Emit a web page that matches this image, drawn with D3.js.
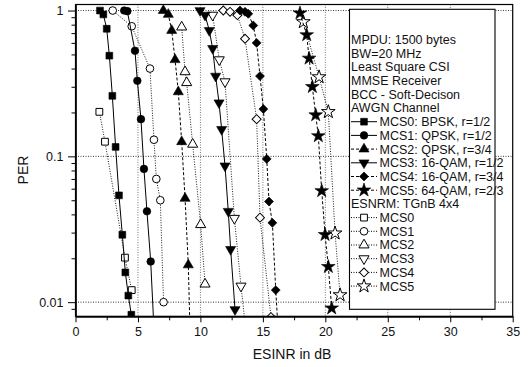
<!DOCTYPE html>
<html>
<head>
<meta charset="utf-8">
<script src="https://cdn.jsdelivr.net/npm/d3@7"></script>
<style>
  body { margin: 0; background: #fff; }
  svg text { font-family: "Liberation Sans", Arial, sans-serif; fill: #111; }
</style>
</head>
<body>
<svg id="chart" width="530" height="367"></svg>
<script>
// values: ESINR (dB) and PER for every curve
const mcs0_x = [1.96, 2.23, 2.5, 2.71, 2.95, 3.21, 3.48, 3.75, 3.99, 4.23, 4.47];
const mcs0_y = [1.0, 0.94, 0.75, 0.49, 0.26, 0.116, 0.054, 0.029, 0.016, 0.0111, 0.0082];
const mcs1_x = [3.9, 4.15, 4.76, 4.95, 5.24, 5.48, 5.72, 6.02, 6.35];
const mcs1_y = [1.0, 0.99, 0.53, 0.33, 0.18, 0.082, 0.042, 0.019, 0.005];
const mcs2_x = [7.03, 7.43, 7.7, 7.97, 8.23, 8.5, 8.77, 9.03, 9.2];
const mcs2_y = [1.0, 0.94, 0.73, 0.46, 0.277, 0.126, 0.0515, 0.018, 0.005];
const mcs3_x = [9.97, 10.37, 10.71, 10.98, 11.22, 11.49, 11.7, 11.97, 12.23, 12.42, 12.77];
const mcs3_y = [1.0, 0.93, 0.73, 0.55, 0.355, 0.233, 0.153, 0.086, 0.042, 0.023, 0.0089];
const mcs4_x = [13.17, 13.57, 13.83, 14.23, 14.5, 14.77, 15.04, 15.31, 15.49, 15.76, 16.03, 16.3];
const mcs4_y = [1.0, 0.98, 0.95, 0.79, 0.6, 0.355, 0.211, 0.096, 0.049, 0.035, 0.0121, 0.005];
const mcs5_x = [17.97, 18.51, 18.7, 18.96, 19.23, 19.44, 19.71, 19.98, 20.24, 20.51];
const mcs5_y = [0.96, 0.68, 0.47, 0.3, 0.192, 0.138, 0.058, 0.029, 0.0175, 0.0091];

// ESNRM: TGnB 4x4 (hollow markers)
const esn0_x = [1.91, 2.36, 3.96, 4.5];
const esn0_y = [0.202, 0.126, 0.0202, 0.0121];
const esn1_x = [2.98, 4.5, 5.96, 6.28, 6.47, 6.79, 7.05];
const esn1_y = [1.0, 0.78, 0.4, 0.13, 0.07, 0.05, 0.01];
const esn2_x = [8.5, 8.77, 8.9, 9.38, 10.02, 10.37];
const esn2_y = [0.77, 0.38, 0.32, 0.121, 0.034, 0.0133];
const esn3_x = [10.98, 11.51, 11.97, 12.72, 13.25, 13.9];
const esn3_y = [0.93, 0.46, 0.325, 0.0376, 0.0129, 0.004];
const esn4_x = [11.83, 12.37, 12.96, 13.57, 14.5, 14.77, 15.65];
const esn4_y = [1.0, 0.98, 0.93, 0.64, 0.18, 0.038, 0.0079];
const esn5_x = [18.24, 19.5, 20.24, 20.78, 21.18];
const esn5_y = [0.835, 0.35, 0.202, 0.0297, 0.0112];

const x_major = [0, 5, 10, 15, 20, 25, 30, 35];
const x_minor = [2.5, 7.5, 12.5, 17.5, 22.5, 27.5, 32.5];
const y_major = [0.01, 0.1, 1];
const y_minor = [0.009, 0.02, 0.03, 0.04, 0.05, 0.06, 0.07, 0.08, 0.09,
                 0.2, 0.3, 0.4, 0.5, 0.6, 0.7, 0.8, 0.9];

const info_lines = ["MPDU: 1500 bytes", "BW=20 MHz", "Least Square CSI",
                    "MMSE Receiver", "BCC - Soft-Decison", "AWGN Channel"];

const series = [
  {name: "MCS0: BPSK, r=1/2",   xs: mcs0_x, ys: mcs0_y, sym: "square",   fill: true,  dash: null},
  {name: "MCS1: QPSK, r=1/2",   xs: mcs1_x, ys: mcs1_y, sym: "circle",   fill: true,  dash: null},
  {name: "MCS2: QPSK, r=3/4",   xs: mcs2_x, ys: mcs2_y, sym: "triangle", fill: true,  dash: "3,2"},
  {name: "MCS3: 16-QAM, r=1/2", xs: mcs3_x, ys: mcs3_y, sym: "tridown",  fill: true,  dash: null},
  {name: "MCS4: 16-QAM, r=3/4", xs: mcs4_x, ys: mcs4_y, sym: "diamond",  fill: true,  dash: "3,2"},
  {name: "MCS5: 64-QAM, r=2/3", xs: mcs5_x, ys: mcs5_y, sym: "star",     fill: true,  dash: "3,2"},
  {name: "MCS0", xs: esn0_x, ys: esn0_y, sym: "square",   fill: false, dash: "1,1.5"},
  {name: "MCS1", xs: esn1_x, ys: esn1_y, sym: "circle",   fill: false, dash: "1,1.5"},
  {name: "MCS2", xs: esn2_x, ys: esn2_y, sym: "triangle", fill: false, dash: "1,1.5"},
  {name: "MCS3", xs: esn3_x, ys: esn3_y, sym: "tridown",  fill: false, dash: "1,1.5"},
  {name: "MCS4", xs: esn4_x, ys: esn4_y, sym: "diamond",  fill: false, dash: "1,1.5"},
  {name: "MCS5", xs: esn5_x, ys: esn5_y, sym: "star",     fill: false, dash: "1,1.5"}
];

const svg = d3.select("svg#chart");
const pLeft = 75.5, pRight = 512.7, pTop = 4.5, pBottom = 316.3;

const x = d3.scaleLinear().domain([0, 35]).range([pLeft, pRight]);
const y = d3.scaleLog().domain([0.008, 1.1]).range([pBottom, pTop]);

// marker shapes
const sym_path = {
  square:   d3.symbol().type(d3.symbolSquare).size(46)(),
  circle:   d3.symbol().type(d3.symbolCircle).size(46)(),
  triangle: d3.symbol().type(d3.symbolTriangle).size(44)(),
  tridown:  d3.symbol().type(d3.symbolTriangle).size(44)(),
  diamond:  d3.symbol().type(d3.symbolSquare).size(40)(),
  star:     d3.symbol().type(d3.symbolStar).size(58)()
};
const sym_rot = {square: 0, circle: 0, triangle: 0, tridown: 180, diamond: 45, star: 0};

function drawMarker(g, s, px, py) {
  g.append("path")
    .attr("d", sym_path[s.sym])
    .attr("transform", "translate(" + px + "," + py + ") rotate(" + sym_rot[s.sym] + ")")
    .attr("fill", s.fill ? "#000" : "#fff")
    .attr("stroke", "#000")
    .attr("stroke-width", s.fill ? 0.6 : 1);
}

svg.append("defs").append("clipPath")
    .attr("id", "plotclip")
  .append("rect")
    .attr("x", pLeft).attr("y", pTop)
    .attr("width", pRight - pLeft).attr("height", pBottom - pTop);

// grid
const grid = svg.append("g").attr("class", "grid");
grid.selectAll("line.v")
  .data(x_major.filter(d => d > 0 && d < 35))
  .enter().append("line")
    .attr("class", "v")
    .attr("x1", d => x(d)).attr("x2", d => x(d))
    .attr("y1", pTop).attr("y2", pBottom)
    .attr("stroke", "#777")
    .attr("stroke-width", 1)
    .attr("stroke-dasharray", "1,1.5");
grid.selectAll("line.h")
  .data(y_major)
  .enter().append("line")
    .attr("class", "h")
    .attr("x1", pLeft).attr("x2", pRight)
    .attr("y1", d => y(d)).attr("y2", d => y(d))
    .attr("stroke", "#222")
    .attr("stroke-width", 0.9)
    .attr("stroke-dasharray", "1,1.5");

// curves
const plot = svg.append("g").attr("clip-path", "url(#plotclip)");
const line = d3.line().x(d => x(d[0])).y(d => y(d[1]));

series.slice().reverse().forEach(function(s) {
  let pts = s.xs.map((v, i) => [v, s.ys[i]]);
  plot.append("path")
    .datum(pts)
    .attr("d", line)
    .attr("fill", "none")
    .attr("stroke", "#000")
    .attr("stroke-width", s.fill ? 1 : 0.9)
    .attr("stroke-dasharray", s.dash);
  let g = plot.append("g");
  pts.forEach(p => drawMarker(g, s, x(p[0]), y(p[1])));
});

// legend
const lx = 349.5, ly = 9.3, lw = 145.5, lh = 300;
const legend = svg.append("g").attr("class", "legend");
legend.append("rect")
  .attr("x", lx).attr("y", ly).attr("width", lw).attr("height", lh)
  .attr("fill", "#fff").attr("stroke", "#000").attr("stroke-width", 1.1);

const row_y = i => 39.5 + 13.7 * i;
info_lines.forEach(function(t, i) {
  legend.append("text")
    .attr("x", 351).attr("y", row_y(i) + 4.4)
    .attr("font-size", "12.5px").text(t);
});
series.forEach(function(s, k) {
  let i = k < 6 ? k + 6 : k + 7;
  let cy = row_y(i);
  legend.append("line")
    .attr("x1", 351).attr("x2", 377).attr("y1", cy).attr("y2", cy)
    .attr("stroke", "#000").attr("stroke-width", 1)
    .attr("stroke-dasharray", s.dash);
  drawMarker(legend, s, 364, cy);
  legend.append("text")
    .attr("x", 379.5).attr("y", cy + 4.4)
    .attr("font-size", "12.5px").text(s.name);
});
legend.append("text")
  .attr("x", 351).attr("y", row_y(12) + 4.4)
  .attr("font-size", "12.5px").text("ESNRM: TGnB 4x4");

// axes
svg.append("g")
  .attr("transform", "translate(0," + pBottom + ")")
  .call(d3.axisBottom(x).tickValues(x_major).tickSize(6).tickPadding(5).tickSizeOuter(0).tickFormat(d3.format("d")));
svg.append("g")
  .attr("transform", "translate(0," + pBottom + ")")
  .call(d3.axisBottom(x).tickValues(x_minor).tickSize(4).tickSizeOuter(0).tickFormat(""));
svg.append("g")
  .attr("transform", "translate(" + pLeft + ",0)")
  .call(d3.axisLeft(y).tickValues(y_major).tickSize(7.5).tickPadding(4.5).tickSizeOuter(0).tickFormat(d => String(d)));
svg.append("g")
  .attr("transform", "translate(" + pLeft + ",0)")
  .call(d3.axisLeft(y).tickValues(y_minor).tickSize(4).tickSizeOuter(0).tickFormat(""));

svg.selectAll(".tick text").attr("font-size", "12.5px").attr("font-family", "Liberation Sans, Arial, sans-serif").attr("fill", "#111");
svg.selectAll(".domain").attr("stroke", "#000").attr("stroke-width", 1.2);
svg.selectAll(".tick line").attr("stroke", "#000").attr("stroke-width", 1);

// frame
svg.append("rect")
  .attr("x", pLeft).attr("y", pTop)
  .attr("width", pRight - pLeft).attr("height", pBottom - pTop)
  .attr("fill", "none").attr("stroke", "#000").attr("stroke-width", 1.2);

// titles
svg.append("text")
  .attr("transform", "translate(28,170) rotate(-90)")
  .attr("text-anchor", "middle")
  .attr("font-size", "14px")
  .text("PER");
svg.append("text")
  .attr("x", 292).attr("y", 359)
  .attr("text-anchor", "middle")
  .attr("font-size", "14px")
  .text("ESINR in dB");
</script>
</body>
</html>
